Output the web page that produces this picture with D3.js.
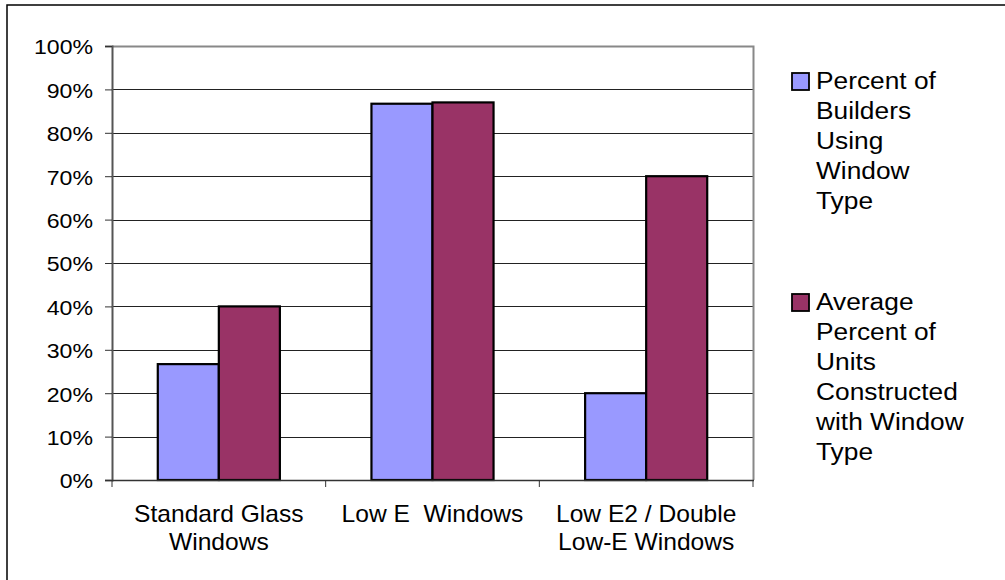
<!DOCTYPE html>
<html>
<head>
<meta charset="utf-8">
<script src="https://cdn.jsdelivr.net/npm/d3@7"></script>
<style>
  html, body { margin: 0; padding: 0; background: #fff; }
  svg { display: block; }
  text { font-family: "Liberation Sans", Arial, sans-serif; fill: #000; }
</style>
</head>
<body>
<svg id="chart" width="1005" height="580"></svg>
<script>
// Window types surveyed
const categories = [
  ["Standard Glass", "Windows"],
  ["Low E\u00a0\u00a0Windows"],
  ["Low E2 / Double", "Low-E Windows"]
];
// Share of builders using each window type (%)
const buildersPct = [26.7, 86.7, 20];
// Average share of units built with each window type (%)
const unitsPct = [40, 87, 70];
const seriesNames = [
  ["Percent of", "Builders", "Using", "Window", "Type"],
  ["Average", "Percent of", "Units", "Constructed", "with Window", "Type"]
];
const yTicks = [0, 10, 20, 30, 40, 50, 60, 70, 80, 90, 100];
const colors = ["#9999FF", "#993366"];

const svg = d3.select("#chart");

// outer chart frame
svg.append("rect")
  .attr("x", 7).attr("y", 5).attr("width", 1010).attr("height", 600)
  .attr("fill", "none").attr("stroke", "#000").attr("stroke-width", 1.5);

const plot = { left: 112, right: 753, top: 46, bottom: 480 };

const x = d3.scaleBand()
  .domain(d3.range(categories.length))
  .range([plot.left, plot.right])
  .paddingInner(0).paddingOuter(0);

const y = d3.scaleLinear().domain([0, 100]).range([plot.bottom, plot.top]);

// bar layout within a category: two bars, gap width 150%
const barW = x.bandwidth() / 3.5;
const xs = d3.scaleBand().domain([0, 1])
  .range([x.bandwidth() / 2 - barW, x.bandwidth() / 2 + barW]);

// gridlines
svg.append("g").selectAll("line")
  .data(yTicks.filter(t => t > 0 && t < 100))
  .join("line")
  .attr("x1", plot.left).attr("x2", plot.right)
  .attr("y1", d => Math.round(y(d)) + 0.5).attr("y2", d => Math.round(y(d)) + 0.5)
  .attr("stroke", "#222").attr("stroke-width", 1);

// plot area border (top and right)
svg.append("path")
  .attr("d", `M${plot.left},${plot.top + 0.5}H${plot.right + 0.5}V${plot.bottom}`)
  .attr("fill", "none").attr("stroke", "#888").attr("stroke-width", 2);

// y axis
const yAxis = d3.axisLeft(y).tickValues(yTicks).tickSize(7)
  .tickFormat(d => d + "%").tickPadding(12);
const gy = svg.append("g").attr("transform", `translate(${plot.left},0)`).call(yAxis);
gy.select(".domain").attr("stroke", "#555").attr("stroke-width", 2);
gy.selectAll(".tick line").attr("stroke", "#333");
gy.selectAll(".tick text")
  .style("font-family", '"Liberation Sans", Arial, sans-serif')
  .attr("font-size", 21)
  .attr("dy", "0.38em")
  .attr("transform", function () {
    // widen the glyphs while keeping the right edge in place
    const xx = +d3.select(this).attr("x");
    return `translate(${-xx * 0.1},0) scale(1.1,1)`;
  });

// bars
const series = [buildersPct, unitsPct];
series.forEach((vals, si) => {
  svg.append("g").selectAll("rect")
    .data(vals)
    .join("rect")
    .attr("x", (d, i) => x(i) + xs(si))
    .attr("width", xs.bandwidth())
    .attr("y", d => y(d))
    .attr("height", d => y(0) - y(d))
    .attr("fill", colors[si])
    .attr("stroke", "#000")
    .attr("stroke-width", 2.2);
});

// x axis
svg.append("line")
  .attr("x1", plot.left).attr("x2", plot.right + 1)
  .attr("y1", plot.bottom + 0.5).attr("y2", plot.bottom + 0.5)
  .attr("stroke", "#333").attr("stroke-width", 1.5);
svg.append("g").selectAll("line")
  .data(d3.range(categories.length + 1))
  .join("line")
  .attr("x1", i => i < categories.length ? x(i) : plot.right)
  .attr("x2", i => i < categories.length ? x(i) : plot.right)
  .attr("y1", plot.bottom).attr("y2", plot.bottom + 7)
  .attr("stroke", "#333").attr("stroke-width", 1);

// category labels
categories.forEach((lines, i) => {
  const cx = x(i) + x.bandwidth() / 2;
  const t = svg.append("text")
    .attr("text-anchor", "middle")
    .attr("font-size", 23)
    .attr("transform", `translate(${cx},522) scale(1.07,1)`);
  lines.forEach((ln, k) => {
    t.append("tspan").attr("x", 0).attr("y", k * 28).text(ln);
  });
});

// legend
const legendTop = [89, 310];
seriesNames.forEach((lines, si) => {
  svg.append("rect")
    .attr("x", 792).attr("y", legendTop[si] - 16)
    .attr("width", 17).attr("height", 17)
    .attr("fill", colors[si]).attr("stroke", "#000").attr("stroke-width", 1.8);
  const t = svg.append("text")
    .attr("font-size", 23.5)
    .attr("transform", `translate(816,${legendTop[si]}) scale(1.12,1)`);
  lines.forEach((ln, k) => {
    t.append("tspan").attr("x", 0).attr("y", k * 30).text(ln);
  });
});
</script>
</body>
</html>
